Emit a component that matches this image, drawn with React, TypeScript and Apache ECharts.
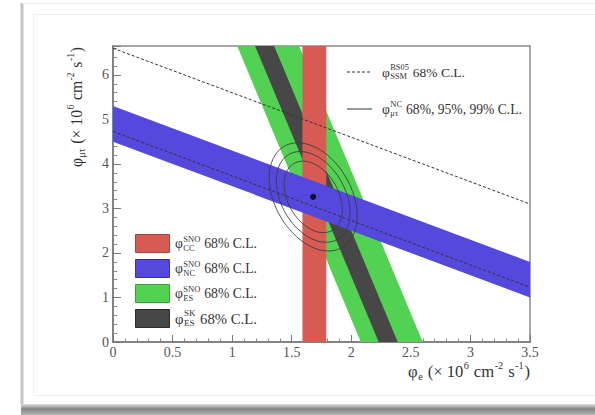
import React, { useEffect, useRef } from "react";
import * as echarts from "echarts";

// ---- data ----
const xRange = [0, 3.5];
const yRange = [0, 6.65];
const xTickStep = 0.5;
const yTickStep = 1;

const phiCC = [1.59, 1.79]; // phi_e band (SNO CC)
const phiNC = [4.5, 5.3]; // phi_e + phi_mutau band (SNO NC)
const phiES_SNO = [2.08, 2.6]; // phi_e + w*phi_mutau band (SNO ES)
const phiES_SK = [2.23, 2.39]; // phi_e + w*phi_mutau band (SK ES)
const esMuTauWeight = 0.156;
const phiSSM = [4.73, 6.6]; // phi_e + phi_mutau SSM bounds
const bestFit = [1.68, 3.26];
const contourSigma = [0.119, 0.392];
const contourRho = -0.35;
const contourScales = [2.05, 2.6, 3.1];

const legendSubs = ["CC", "NC", "ES", "ES"];
const legendSups = ["SNO", "SNO", "SNO", "SK"];

const COLORS = {
  cc: "#d75b53",
  nc: "#5549dd",
  es: "#53d153",
  sk: "#474747",
};
const BAND_BORDERS = ["#a8423c", "#3a30a8", "#3b9e3b", "#2a2a2a"];
const FONT = '"Liberation Serif", "DejaVu Serif", serif';

type Tok = { t?: string; sup?: string; sub?: string };

let measureCtx: CanvasRenderingContext2D | null = null;
function tw(s: string, fs: number) {
  if (!measureCtx) measureCtx = document.createElement("canvas").getContext("2d");
  measureCtx!.font = `${fs}px ${FONT}`;
  return measureCtx!.measureText(s).width;
}

function layoutMath(tokens: Tok[], fs: number, color: string) {
  const fsS = fs * 0.62;
  let x = 0;
  const children: any[] = [];
  const mk = (text: string, px: number, py: number, size: number) => ({
    type: "text",
    x: px,
    y: py,
    style: {
      text,
      font: `${size}px ${FONT}`,
      fill: color,
      align: "left",
      verticalAlign: "middle",
    },
  });
  for (const tok of tokens) {
    if (tok.t !== undefined) {
      children.push(mk(tok.t, x, 0, fs));
      x += tw(tok.t, fs);
    } else {
      let w = 0;
      if (tok.sup) {
        children.push(mk(tok.sup, x + 0.5, -0.34 * fs, fsS));
        w = Math.max(w, tw(tok.sup, fsS));
      }
      if (tok.sub) {
        children.push(mk(tok.sub, x + 0.5, 0.32 * fs, fsS));
        w = Math.max(w, tw(tok.sub, fsS));
      }
      x += w + 0.08 * fs;
    }
  }
  return { children, width: x };
}

function mathFit(tokens: Tok[], targetWidth: number, color: string) {
  const base = layoutMath(tokens, 10, color);
  const fs = (10 * targetWidth) / base.width;
  return layoutMath(tokens, fs, color);
}

const unitToks: Tok[] = [
  { t: " (× 10" },
  { sup: "6" },
  { t: " cm" },
  { sup: "-2" },
  { t: " s" },
  { sup: "-1" },
  { t: ")" },
];

function bandSeries(color: string, pts: number[][]) {
  return {
    type: "custom",
    clip: true,
    silent: true,
    data: [[0]],
    renderItem: (_p: any, api: any) => ({
      type: "polygon",
      shape: { points: pts.map((p) => api.coord(p)) },
      style: { fill: color },
    }),
  };
}

export default function App() {
  const ref = useRef<HTMLDivElement>(null);
  useEffect(() => {
    document.body.style.margin = "0";
    const chart = echarts.init(ref.current!, null, { renderer: "svg" });
    const xmax = xRange[1];
    const ymax = yRange[1];
    const w = esMuTauWeight;

    const ccPts = [
      [phiCC[0], 0],
      [phiCC[1], 0],
      [phiCC[1], ymax],
      [phiCC[0], ymax],
    ];
    const ncPts = [
      [0, phiNC[0]],
      [0, phiNC[1]],
      [xmax, phiNC[1] - xmax],
      [xmax, phiNC[0] - xmax],
    ];
    const esPts = (b: number[]) => [
      [b[0], 0],
      [b[1], 0],
      [b[1] - w * ymax, ymax],
      [b[0] - w * ymax, ymax],
    ];

    const ssmSeries = phiSSM.map((v) => ({
      type: "line",
      silent: true,
      symbol: "none",
      data: [
        [0, v],
        [xmax, v - xmax],
      ],
      lineStyle: { color: "#333", width: 1, type: [3, 2] },
    }));

    const axisLabel = {
      fontFamily: FONT,
      fontSize: 14,
      color: "#555",
    };

    // graphic elements
    const graphics: any[] = [];
    // card decoration
    graphics.push(
      { type: "line", shape: { x1: 22, y1: 3, x2: 22, y2: 405 }, style: { stroke: "#c4c4c4", lineWidth: 3 }, z: -5 },
      { type: "line", shape: { x1: 22, y1: 3.5, x2: 595, y2: 3.5 }, style: { stroke: "#efefef", lineWidth: 1 }, z: -5 },
      { type: "rect", shape: { x: 33.5, y: 14.5, width: 600, height: 381 }, style: { fill: "none", stroke: "#f0f0f0", lineWidth: 1 }, z: -5 },
      {
        type: "rect",
        shape: { x: 21, y: 404, width: 574, height: 11 },
        style: {
          fill: new echarts.graphic.LinearGradient(0, 0, 0, 1, [
            { offset: 0, color: "#e2e2e2" },
            { offset: 0.45, color: "#858585" },
            { offset: 1, color: "#b5b5b5" },
          ]),
        },
        z: -5,
      }
    );

    // axis titles
    const xt = mathFit([{ t: "φ" }, { sub: "e" }, ...unitToks], 122, "#333");
    graphics.push({ type: "group", x: 530 - xt.width, y: 371, children: xt.children });
    const yt = mathFit([{ t: "φ" }, { sub: "μτ" }, ...unitToks], 120, "#333");
    graphics.push({ type: "group", x: 76, y: 47 + yt.width, rotation: Math.PI / 2, children: yt.children });

    // bottom-left legend
    const bandColors = [COLORS.cc, COLORS.nc, COLORS.es, COLORS.sk];
    legendSubs.forEach((sub, i) => {
      const cy = 243.5 + i * 25;
      graphics.push({
        type: "rect",
        shape: { x: 135.5, y: cy - 9, width: 34, height: 18 },
        style: { fill: bandColors[i], stroke: BAND_BORDERS[i], lineWidth: 1 },
        z: 10,
      });
      const lt = mathFit([{ t: "φ" }, { sup: legendSups[i], sub }, { t: " 68% C.L." }], 82, "#333");
      graphics.push({ type: "group", x: 175, y: cy, children: lt.children, z: 10 });
    });

    // top-right legend
    graphics.push({
      type: "line",
      shape: { x1: 347, y1: 72, x2: 372, y2: 72 },
      style: { stroke: "#333", lineWidth: 1, lineDash: [3, 2] },
      z: 10,
    });
    const t1 = mathFit([{ t: "φ" }, { sup: "BS05", sub: "SSM" }, { t: " 68% C.L." }], 83, "#333");
    graphics.push({ type: "group", x: 382, y: 72, children: t1.children, z: 10 });
    graphics.push({
      type: "line",
      shape: { x1: 347, y1: 109, x2: 372, y2: 109 },
      style: { stroke: "#333", lineWidth: 1 },
      z: 10,
    });
    const t2 = mathFit([{ t: "φ" }, { sup: "NC", sub: "μτ" }, { t: " 68%, 95%, 99% C.L." }], 140, "#333");
    graphics.push({ type: "group", x: 382, y: 109, children: t2.children, z: 10 });

    const option: any = {
      animation: false,
      grid: {
        left: 113,
        right: 65,
        top: 46,
        bottom: 73,
        show: true,
        borderColor: "#8a8a8a",
        borderWidth: 1.5,
        backgroundColor: "#fff",
        containLabel: false,
        outerBoundsMode: "none",
      },
      xAxis: {
        type: "value",
        min: xRange[0],
        max: xRange[1],
        interval: xTickStep,
        axisLine: { onZero: false, lineStyle: { color: "#777", width: 1.5 } },
        axisTick: { inside: true, length: 7, lineStyle: { color: "#777" } },
        minorTick: { show: true, splitNumber: 5, length: 3.5, lineStyle: { color: "#888" } },
        splitLine: { show: false },
        axisLabel: { ...axisLabel, margin: 3 },
      },
      yAxis: {
        type: "value",
        min: yRange[0],
        max: yRange[1],
        interval: yTickStep,
        axisLine: { onZero: false, lineStyle: { color: "#777", width: 1.5 } },
        axisTick: { inside: true, length: 8, lineStyle: { color: "#777" } },
        minorTick: { show: true, splitNumber: 5, length: 4, lineStyle: { color: "#888" } },
        splitLine: { show: false },
        axisLabel: {
          ...axisLabel,
          margin: 4,
          formatter: (v: number) => (Math.abs(v - Math.round(v)) < 1e-9 ? String(Math.round(v)) : ""),
        },
      },
      series: [
        bandSeries(COLORS.es, esPts(phiES_SNO)),
        bandSeries(COLORS.sk, esPts(phiES_SK)),
        bandSeries(COLORS.cc, ccPts),
        bandSeries(COLORS.nc, ncPts),
        ...ssmSeries,
        {
          type: "custom",
          clip: true,
          silent: true,
          data: [bestFit],
          renderItem: (_p: any, api: any) => {
            const cx = api.value(0);
            const cy = api.value(1);
            const children = contourScales.map((k) => {
              const pts: number[][] = [];
              for (let i = 0; i <= 96; i++) {
                const t = (i / 96) * 2 * Math.PI;
                const dx = k * contourSigma[0] * Math.cos(t);
                const dy =
                  k * contourSigma[1] * (contourRho * Math.cos(t) + Math.sqrt(1 - contourRho * contourRho) * Math.sin(t));
                pts.push(api.coord([cx + dx, cy + dy]));
              }
              return {
                type: "polyline",
                shape: { points: pts },
                style: { stroke: "#3a3a3a", lineWidth: 1, fill: "none", opacity: 0.85 },
              };
            });
            return { type: "group", children };
          },
        },
        {
          type: "scatter",
          silent: true,
          symbolSize: 6,
          itemStyle: { color: "#000" },
          data: [bestFit],
        },
      ],
      graphic: graphics,
    };
    chart.setOption(option);
    return () => chart.dispose();
  }, []);
  return <div ref={ref} style={{ width: 595, height: 415 }} />;
}
